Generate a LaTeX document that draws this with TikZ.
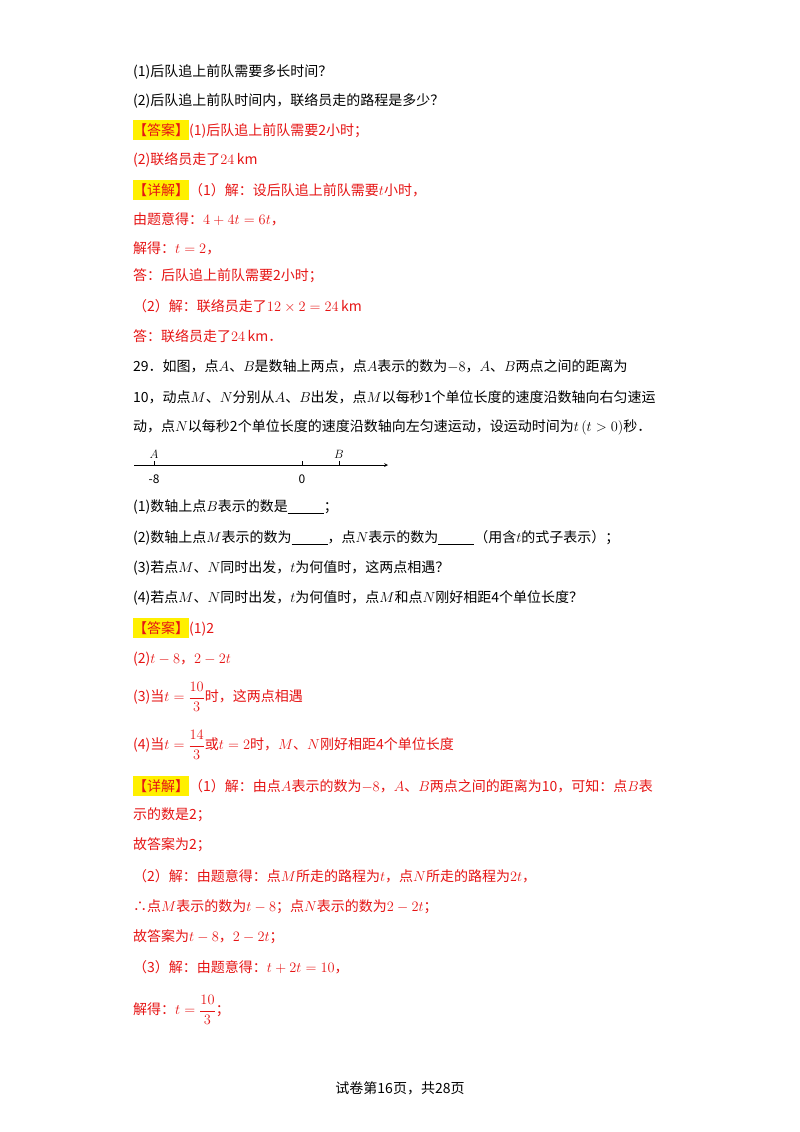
\documentclass[tikz,border=0pt]{standalone}
\usepackage{fontspec}
\setmainfont{Noto Sans CJK SC}
\usepackage{amsmath}
\definecolor{ans}{RGB}{230,20,20}
\definecolor{hl}{RGB}{255,240,0}
\newcommand{\HL}[1]{\colorbox{hl}{\hspace{-3pt}#1\hspace{-3pt}}}
\begin{document}
\begin{tikzpicture}[x=1pt,y=-1pt,
  ln/.style={anchor=west,inner sep=0pt,font=\fontsize{14}{16}\selectfont},
  rd/.style={ln,text=ans}]
\useasboundingbox (0,0) rectangle (800,1132);
\fill[white] (0,0) rectangle (800,1132);
\node[ln] (l1) at (133,72) {(1)后队追上前队需要多长时间？};
\node[ln] (l2) at (133,101) {(2)后队追上前队时间内，联络员走的路程是多少？};
\node[rd] (l3) at (133,130) {\HL{\textcolor{ans}{【答案】}}(1)后队追上前队需要2小时；};
\node[rd] (l4) at (133,160) {(2)联络员走了$24\,\mathrm{km}$};
\node[rd] (l5) at (133,190) {\HL{\textcolor{ans}{【详解】}}（1）解：设后队追上前队需要$t$小时，};
\node[rd] (l6) at (133,219) {由题意得：$4+4t=6t$，};
\node[rd] (l7) at (133,248) {解得：$t=2$，};
\node[rd] (l8) at (133,276) {答：后队追上前队需要2小时；};
\node[rd] (l9) at (133,306) {（2）解：联络员走了$12\times2=24\,\mathrm{km}$};
\node[rd] (l10) at (133,336) {答：联络员走了$24\,\mathrm{km}$．};
\node[ln] (l11) at (133,366) {29．如图，点$A$、$B$是数轴上两点，点$A$表示的数为$-8$，$A$、$B$两点之间的距离为};
\node[ln] (l12) at (133,397) {10，动点$M$、$N$分别从$A$、$B$出发，点$M$以每秒1个单位长度的速度沿数轴向右匀速运};
\node[ln] (l13) at (133,427) {动，点$N$以每秒2个单位长度的速度沿数轴向左匀速运动，设运动时间为$t\left(t>0\right)$秒．};
% number line
\coordinate (s) at (134,465);
\coordinate (e) at (388,465);
\draw[-stealth,line width=0.7pt] (s) -- (e);
\foreach \x/\n in {154/ta,302/tz,339/tb}{\draw[line width=0.6pt] (\x,465) -- (\x,461) coordinate (\n);}
\node[ln,anchor=center,font=\fontsize{12}{14}\selectfont] (A) at (154,454) {$A$};
\node[ln,anchor=center,font=\fontsize{12}{14}\selectfont] (B) at (339,454) {$B$};
\node[ln,anchor=center,font=\fontsize{12}{14}\selectfont] (m8) at (154,479) {-8};
\node[ln,anchor=center,font=\fontsize{12}{14}\selectfont] (z) at (302,479) {0};
\node[ln] (l14) at (133,507) {(1)数轴上点$B$表示的数是\underline{\hspace{36pt}}；};
\node[ln] (l15) at (133,538) {(2)数轴上点$M$表示的数为\underline{\hspace{36pt}}，点$N$表示的数为\underline{\hspace{36pt}}（用含$t$的式子表示）；};
\node[ln] (l16) at (133,568) {(3)若点$M$、$N$同时出发，$t$为何值时，这两点相遇？};
\node[ln] (l17) at (133,598) {(4)若点$M$、$N$同时出发，$t$为何值时，点$M$和点$N$刚好相距4个单位长度？};
\node[rd] (l18) at (133,628) {\HL{\textcolor{ans}{【答案】}}(1)2};
\node[rd] (l19) at (133,659) {(2)$t-8$，$2-2t$};
\node[rd] (l20) at (133,697) {(3)当$t=\dfrac{10}{3}$时，这两点相遇};
\node[rd] (l21) at (133,745) {(4)当$t=\dfrac{14}{3}$或$t=2$时，$M$、$N$刚好相距4个单位长度};
\node[rd] (l22) at (133,786) {\HL{\textcolor{ans}{【详解】}}（1）解：由点$A$表示的数为$-8$，$A$、$B$两点之间的距离为10，可知：点$B$表};
\node[rd] (l23) at (133,815) {示的数是2；};
\node[rd] (l24) at (133,845) {故答案为2；};
\node[rd] (l25) at (133,876) {（2）解：由题意得：点$M$所走的路程为$t$，点$N$所走的路程为$2t$，};
\node[rd] (l26) at (133,907) {∴点$M$表示的数为$t-8$；点$N$表示的数为$2-2t$；};
\node[rd] (l27) at (133,937) {故答案为$t-8$，$2-2t$；};
\node[rd] (l28) at (133,967) {（3）解：由题意得：$t+2t=10$，};
\node[rd] (l29) at (133,1010) {解得：$t=\dfrac{10}{3}$；};
\node[ln,anchor=center] (ft) at (400,1088) {试卷第16页，共28页};
\end{tikzpicture}
\end{document}
